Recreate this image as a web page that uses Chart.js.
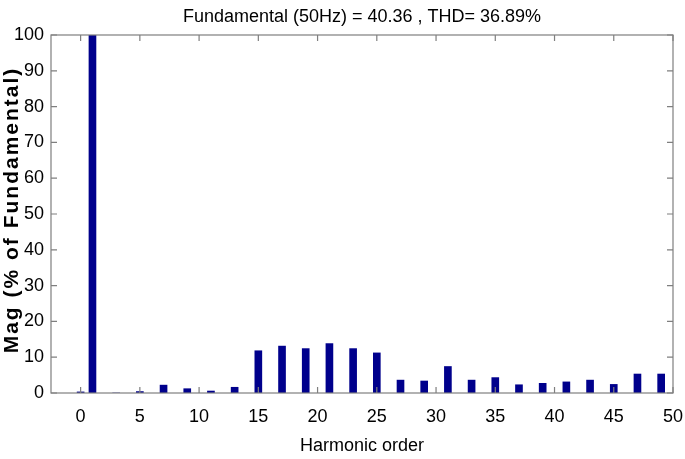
<!DOCTYPE html>
<html lang="en">
<head>
    <meta charset="utf-8">
    <title>Harmonic spectrum</title>
    <script src="https://cdn.jsdelivr.net/npm/chart.js"></script>
    <style>
        html, body { margin: 0; padding: 0; background: #fff; }
        #wrap { width: 685px; height: 459px; }
    </style>
</head>
<body>
    <div id="wrap"><canvas id="chart"></canvas></div>

    <script>
        // harmonic orders and magnitudes (% of fundamental)
        const harmonics = [0, 1, 3, 5, 7, 9, 11, 13, 15, 17, 19, 21, 23, 25,
                           27, 29, 31, 33, 35, 37, 39, 41, 43, 45, 47, 49];
        const magnitudes = [0.3, 100, 0, 0.4, 2.2, 1.2, 0.55, 1.6, 11.8, 13.1, 12.4, 13.8, 12.4, 11.2,
                            3.6, 3.35, 7.4, 3.6, 4.3, 2.3, 2.7, 3.1, 3.6, 2.4, 5.3, 5.3];
        const xTicks = [0, 5, 10, 15, 20, 25, 30, 35, 40, 45, 50];
        const yTicks = [0, 10, 20, 30, 40, 50, 60, 70, 80, 90, 100];

        const titleText = 'Fundamental (50Hz) = 40.36 , THD= 36.89%';
        const xTitle = 'Harmonic order';
        const yTitle = 'Mag (% of Fundamental)';

        const narrow = "'Liberation Sans Narrow', 'Arial Narrow', 'Liberation Sans', Arial, sans-serif";
        const axisGray = '#7f7f7f';

        // box round the plot and inward ticks on all four sides, like matlab,
        // plus the title (centred over the axes) and the spaced-out y title
        const boxPlugin = {
            id: 'box',
            afterDatasetsDraw(chart) {
                const { ctx, chartArea: a, scales } = chart;
                ctx.save();
                ctx.strokeStyle = axisGray;
                ctx.lineWidth = 1.2;
                ctx.strokeRect(a.left, a.top, a.right - a.left, a.bottom - a.top);
                ctx.beginPath();
                xTicks.forEach(v => {
                    const x = scales.x.getPixelForValue(v);
                    ctx.moveTo(x, a.bottom); ctx.lineTo(x, a.bottom - 6);
                    ctx.moveTo(x, a.top); ctx.lineTo(x, a.top + 6);
                });
                yTicks.forEach(v => {
                    const y = scales.y.getPixelForValue(v);
                    ctx.moveTo(a.left, y); ctx.lineTo(a.left + 6, y);
                    ctx.moveTo(a.right, y); ctx.lineTo(a.right - 6, y);
                });
                ctx.stroke();

                ctx.fillStyle = '#000';
                ctx.textAlign = 'center';
                ctx.font = '18px ' + narrow;
                ctx.textBaseline = 'alphabetic';
                ctx.fillText(titleText, (a.left + a.right) / 2, 22);

                ctx.font = "bold 21px 'Liberation Sans', Arial, sans-serif";
                ctx.letterSpacing = '2px';
                ctx.textBaseline = 'middle';
                ctx.translate(12, (a.top + a.bottom) / 2 - 4);
                ctx.rotate(-Math.PI / 2);
                ctx.fillText(yTitle, 0, 0);
                ctx.restore();
            }
        };

        new Chart(document.getElementById('chart'), {
            type: 'bar',
            data: {
                datasets: [{
                    data: harmonics.map((h, i) => ({ x: h, y: magnitudes[i] })),
                    backgroundColor: '#00008c',
                    borderWidth: 0,
                    barThickness: 7
                }]
            },
            options: {
                responsive: true,
                maintainAspectRatio: false,
                animation: false,
                layout: { padding: { top: 35, right: 12, bottom: 0, left: 0 } },
                plugins: {
                    legend: { display: false },
                    tooltip: { enabled: false },
                    title: { display: false }
                },
                scales: {
                    x: {
                        type: 'linear',
                        min: -2.5,
                        max: 50,
                        offset: false,
                        grid: { display: false, drawTicks: false },
                        border: { display: false },
                        afterBuildTicks: s => { s.ticks = xTicks.map(v => ({ value: v })); },
                        afterFit: s => { s.height = 66; s.paddingLeft = 0; s.paddingRight = 0; },
                        ticks: {
                            color: '#000',
                            padding: 13,
                            maxRotation: 0,
                            autoSkip: false,
                            font: { family: narrow, size: 18 }
                        },
                        title: {
                            display: true,
                            text: xTitle,
                            color: '#000',
                            font: { family: narrow, size: 18 },
                            padding: { top: 0, bottom: 2 }
                        }
                    },
                    y: {
                        min: 0,
                        max: 100,
                        grid: { display: false, drawTicks: false },
                        border: { display: false },
                        afterBuildTicks: s => { s.ticks = yTicks.map(v => ({ value: v })); },
                        afterFit: s => { s.width = 51; s.paddingTop = 0; s.paddingBottom = 0; },
                        ticks: {
                            color: '#000',
                            padding: 7,
                            font: { family: narrow, size: 18 }
                        }
                    }
                }
            },
            plugins: [boxPlugin]
        });
    </script>
</body>
</html>
